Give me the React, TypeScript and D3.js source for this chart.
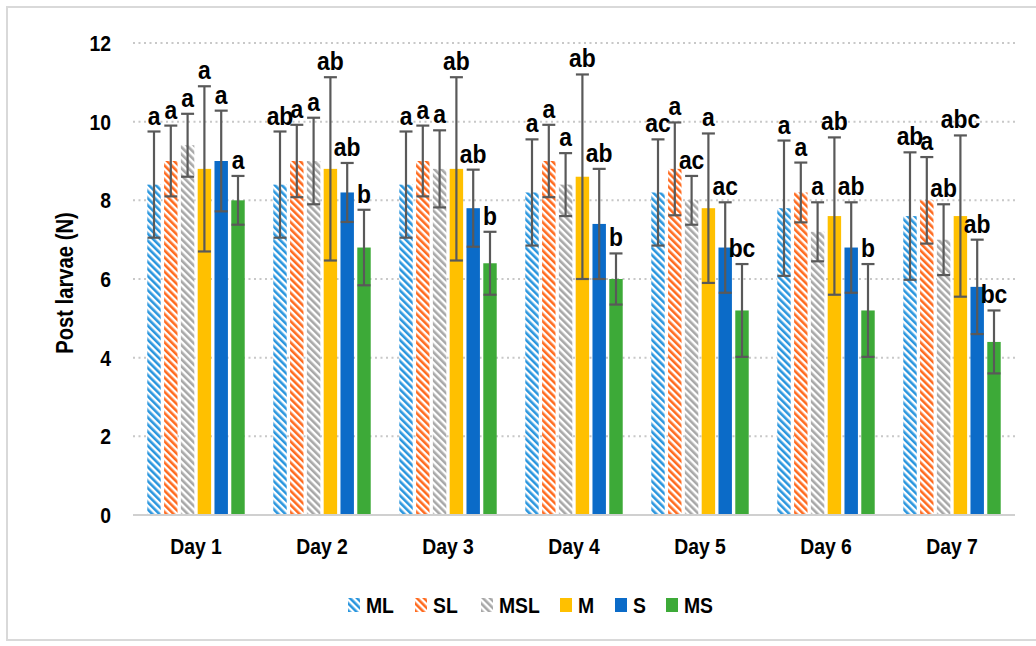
import React from "react";
import * as d3 from "d3";

const days = ["Day 1", "Day 2", "Day 3", "Day 4", "Day 5", "Day 6", "Day 7"];
const seriesNames = ["ML", "SL", "MSL", "M", "S", "MS"];

const ML = [8.4, 8.4, 8.4, 8.2, 8.2, 7.8, 7.6];
const SL = [9.0, 9.0, 9.0, 9.0, 8.8, 8.2, 8.0];
const MSL = [9.4, 9.0, 8.8, 8.4, 8.0, 7.2, 7.0];
const M = [8.8, 8.8, 8.8, 8.6, 7.8, 7.6, 7.6];
const S = [9.0, 8.2, 7.8, 7.4, 6.8, 6.8, 5.8];
const MS = [8.0, 6.8, 6.4, 6.0, 5.2, 5.2, 4.4];

const ML_sd = [1.35, 1.35, 1.35, 1.35, 1.35, 1.72, 1.62];
const SL_sd = [0.9, 0.92, 0.9, 0.92, 1.18, 0.76, 1.1];
const MSL_sd = [0.8, 1.1, 0.98, 0.8, 0.62, 0.75, 0.9];
const M_sd = [2.1, 2.33, 2.33, 2.6, 1.9, 2.0, 2.05];
const S_sd = [1.28, 0.75, 0.98, 1.4, 1.15, 1.15, 1.2];
const MS_sd = [0.62, 0.96, 0.8, 0.65, 1.18, 1.18, 0.8];

const ML_sig = ["a", "ab", "a", "a", "ac", "a", "ab"];
const SL_sig = ["a", "a", "a", "a", "a", "a", "a"];
const MSL_sig = ["a", "a", "a", "a", "ac", "a", "ab"];
const M_sig = ["a", "ab", "ab", "ab", "a", "ab", "abc"];
const S_sig = ["a", "ab", "ab", "ab", "ac", "ab", "ab"];
const MS_sig = ["a", "b", "b", "b", "bc", "b", "bc"];

const yTicks = [0, 2, 4, 6, 8, 10, 12];

const values = [ML, SL, MSL, M, S, MS];
const sds = [ML_sd, SL_sd, MSL_sd, M_sd, S_sd, MS_sd];
const sigs = [ML_sig, SL_sig, MSL_sig, M_sig, S_sig, MS_sig];

const colors = ["#2A96DE", "#FF6B1F", "#A8A8A8", "#FFC000", "#0B6BC8", "#3DAA38"];
const patterned = [true, true, true, false, false, false];

const FONT = "'Liberation Sans', Arial, sans-serif";
const SX = 0.88;

function CText(props: {
  x: number;
  y: number;
  size: number;
  anchor?: "start" | "middle" | "end";
  rotate?: number;
  dy?: string;
  children: React.ReactNode;
}) {
  const { x, y, size, anchor = "start", rotate = 0, dy, children } = props;
  return (
    <text
      transform={`translate(${x},${y}) rotate(${rotate}) scale(${SX},1)`}
      textAnchor={anchor}
      fontSize={size}
      fontWeight="bold"
      fill="#000"
      dy={dy}
    >
      {children}
    </text>
  );
}

export default function App() {
  const W = 1036;
  const H = 646;
  const left = 133;
  const right = 1015;
  const top = 43;
  const bottom = 515;

  const y = d3.scaleLinear().domain([0, 12]).range([bottom, top]);
  const x0 = d3.scaleBand<string>().domain(days).range([left, right]).paddingInner(0.2).paddingOuter(0.1);
  const x1 = d3
    .scaleBand<string>()
    .domain(seriesNames)
    .range([0, x0.bandwidth()])
    .paddingInner(0.2)
    .paddingOuter(0.1);
  const step = (right - left) / days.length;
  const groupX = (i: number) => left + step * i + (step - x0.bandwidth()) / 2;

  const fillFor = (s: number) => (patterned[s] ? `url(#pat${s})` : colors[s]);

  const legendX = [348, 415, 481, 560, 615, 666];

  return (
    <svg
      width={W}
      height={H}
      style={{ position: "absolute", left: 0, top: 0, background: "#fff" }}
      fontFamily={FONT}
    >
      <defs>
        {colors.map((c, s) =>
          patterned[s] ? (
            <pattern
              key={s}
              id={`pat${s}`}
              width={5}
              height={5}
              patternUnits="userSpaceOnUse"
              patternTransform="rotate(-45)"
            >
              <rect width={5} height={5} fill="#fff" />
              <rect width={2.6} height={5} fill={c} />
            </pattern>
          ) : null
        )}
      </defs>
      <rect x={0} y={0} width={W} height={H} fill="#fff" />
      <rect x={7} y={7} width={W + 10} height={633} fill="none" stroke="#D9D9D9" strokeWidth={2} />

      {yTicks.map((t) =>
        t === 0 ? null : (
          <line
            key={t}
            x1={left}
            x2={right}
            y1={y(t)}
            y2={y(t)}
            stroke="#C8C8C8"
            strokeWidth={2}
            strokeDasharray="2,3.5"
          />
        )
      )}
      {yTicks.map((t) => (
        <CText key={t} x={111} y={y(t)} dy="0.36em" anchor="end" size={22}>
          {t}
        </CText>
      ))}
      <CText x={73} y={(top + bottom) / 2 + 4} rotate={-90} anchor="middle" size={23}>
        Post larvae (N)
      </CText>

      {days.map((d, i) => (
        <g key={d} transform={`translate(${groupX(i)},0)`}>
          {seriesNames.map((sn, s) => {
            const v = values[s][i];
            const sd = sds[s][i];
            const bx = x1(sn)!;
            const bw = x1.bandwidth();
            const cx = bx + bw / 2;
            const yt = y(v + sd);
            const yb = y(v - sd);
            return (
              <g key={sn}>
                <rect x={bx} y={y(v)} width={bw} height={bottom - y(v)} fill={fillFor(s)} />
                <line x1={cx} x2={cx} y1={yt} y2={yb} stroke="#595959" strokeWidth={2.2} />
                <line x1={cx - 6.5} x2={cx + 6.5} y1={yt} y2={yt} stroke="#595959" strokeWidth={2.2} />
                <line x1={cx - 6.5} x2={cx + 6.5} y1={yb} y2={yb} stroke="#595959" strokeWidth={2.2} />
                <CText x={cx} y={yt - 7} anchor="middle" size={26}>
                  {sigs[s][i]}
                </CText>
              </g>
            );
          })}
        </g>
      ))}

      <line x1={left} x2={right} y1={bottom} y2={bottom} stroke="#D0D0D0" strokeWidth={2} />
      {days.map((d, i) => (
        <CText key={d} x={left + step * i + step / 2} y={554} anchor="middle" size={22}>
          {d}
        </CText>
      ))}

      {seriesNames.map((sn, s) => (
        <g key={sn} transform={`translate(${legendX[s]},598)`}>
          <rect width={12} height={14} fill={fillFor(s)} />
          <CText x={18} y={15} size={22}>
            {sn}
          </CText>
        </g>
      ))}
    </svg>
  );
}
